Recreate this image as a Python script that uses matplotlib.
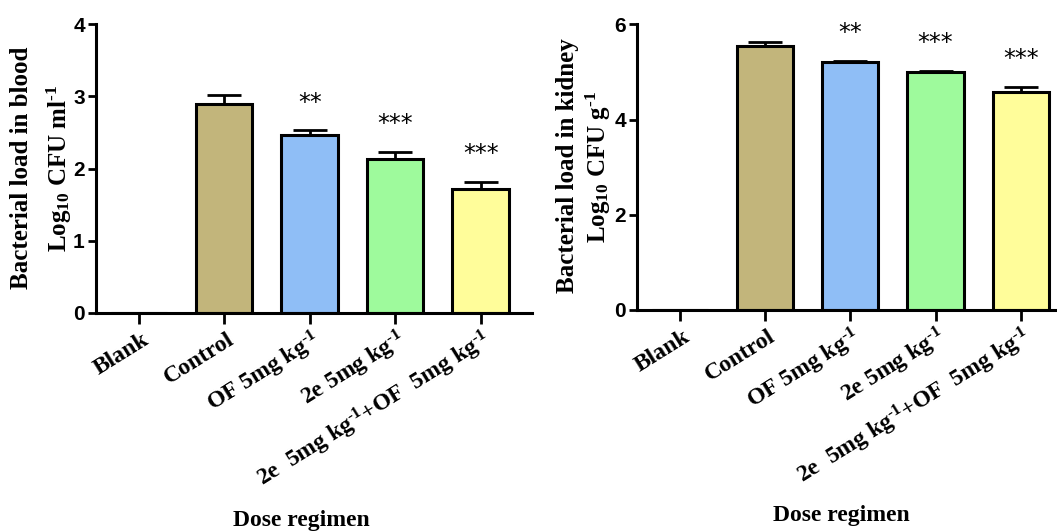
import matplotlib
matplotlib.use('Agg')
import matplotlib.pyplot as plt
import matplotlib.transforms as mtrans
import numpy as np

plt.rcParams['mathtext.fontset'] = 'custom'
plt.rcParams['mathtext.rm'] = 'Liberation Serif:bold'
plt.rcParams['mathtext.bf'] = 'Liberation Serif:bold'
plt.rcParams['mathtext.it'] = 'Liberation Serif:bold'
plt.rcParams['mathtext.default'] = 'rm'

groups = ['Blank', 'Control', r'OF 5mg kg$^{\text{-1}}$', r'2e 5mg kg$^{\text{-1}}$',
          r'2e  5mg kg$^{\text{-1}}$+OF  5mg kg$^{\text{-1}}$']
colors = ['white', '#C2B57B', '#8FBEF6', '#9EFA9C', '#FFFD9A']
signif = ['', '', '**', '***', '***']

blood_mean = [0, 2.90, 2.46, 2.14, 1.72]
blood_sem = [0, 0.12, 0.07, 0.09, 0.10]
kidney_mean = [0, 5.55, 5.20, 4.99, 4.57]
kidney_sem = [0, 0.07, 0.03, 0.04, 0.12]

fig = plt.figure(figsize=[10.57, 5.31], dpi=100)
ax1 = fig.add_axes([0.0908, 0.4106, 0.4125, 0.5436])
ax2 = fig.add_axes([0.6027, 0.4162, 0.4115, 0.5380])

serif = 'Liberation Serif'


def draw_panel(ax, means, sems, ylim, yticks, line1, line2, pos1, pos2):
    x = np.arange(len(groups))
    ax.bar(x, means, width=0.66, color=colors, edgecolor='black', linewidth=2.2,
           zorder=2)
    ax.errorbar(x[1:], means[1:], yerr=[np.zeros(len(x) - 1), sems[1:]],
                fmt='none', ecolor='black', elinewidth=2, capsize=12,
                capthick=2, zorder=1)
    for xi, m, s, star in zip(x, means, sems, signif):
        if star:
            ax.annotate(star, (xi, m + s), xytext=(0, 20),
                        textcoords='offset points', ha='center', va='center',
                        fontsize=17, family='DejaVu Sans')
    ax.set_xlim(-0.5, 4.6)
    ax.set_ylim(*ylim)
    ax.set_yticks(yticks)
    ax.set_yticklabels([str(t) for t in yticks], family='Liberation Sans',
                       fontweight='bold', fontsize=15)
    ax.set_xticks(x)
    ax.set_xticklabels(groups, rotation=32, ha='right', va='center',
                       rotation_mode='anchor', family=serif,
                       fontweight='bold', fontsize=17)
    ax.tick_params(axis='x', length=8, width=2, pad=10)
    ax.tick_params(axis='y', length=6, width=2, pad=2)
    # nudge the slanted labels a little to the right
    shift = mtrans.ScaledTranslation(0.08, 0, fig.dpi_scale_trans)
    for lab in ax.get_xticklabels():
        lab.set_transform(lab.get_transform() + shift)
    for side in ['top', 'right']:
        ax.spines[side].set_visible(False)
    for side in ['left', 'bottom']:
        ax.spines[side].set_linewidth(2.2)
    ax.text(pos1[0], pos1[1], line1, transform=ax.transAxes, rotation=90,
            ha='center', va='center', family=serif, fontweight='bold',
            fontsize=18)
    ax.text(pos2[0], pos2[1], line2, transform=ax.transAxes, rotation=90,
            ha='center', va='center', family=serif, fontweight='bold',
            fontsize=18)
    ax.text(0.47, -0.72, 'Dose regimen', transform=ax.transAxes,
            ha='center', va='center', family=serif, fontweight='bold',
            fontsize=17)


draw_panel(ax1, blood_mean, blood_sem, (0, 4), [0, 1, 2, 3, 4],
           'Bacterial load in blood', r'Log$_{10}$ CFU ml$^{\text{-1}}$',
           (-0.17, 0.502), (-0.083, 0.5))
draw_panel(ax2, kidney_mean, kidney_sem, (0, 6), [0, 2, 4, 6],
           'Bacterial load in kidney', r'Log$_{10}$ CFU g$^{\text{-1}}$',
           (-0.161, 0.507), (-0.088, 0.5))

plt.savefig('out.png', dpi=100)
